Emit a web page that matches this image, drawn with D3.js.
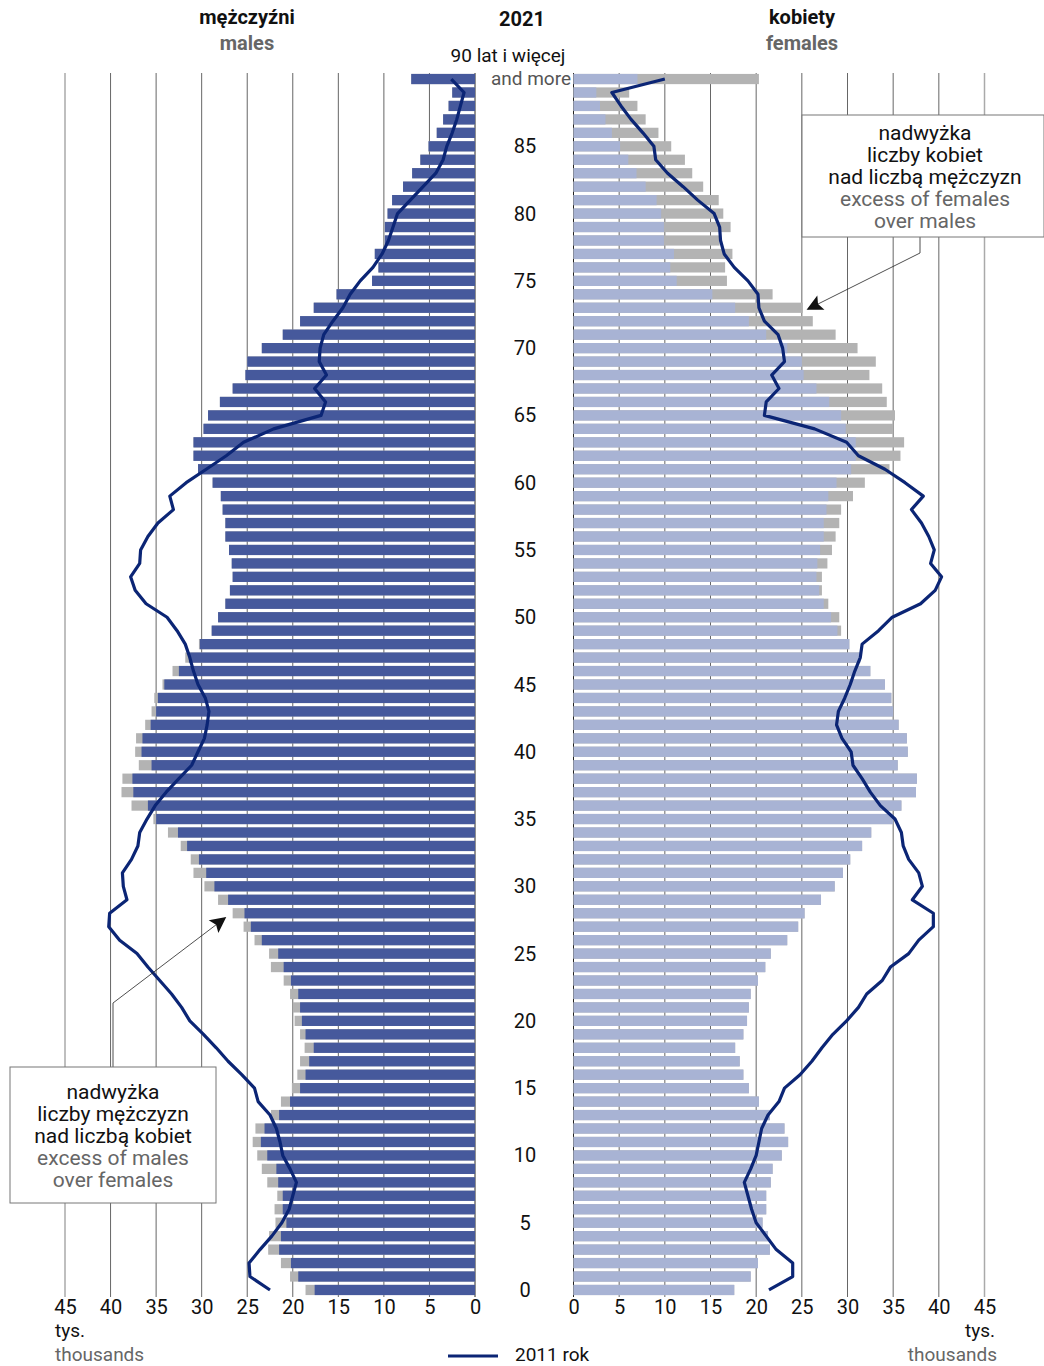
<!DOCTYPE html>
<html>
<head>
<meta charset="utf-8">
<script src="https://cdn.jsdelivr.net/npm/d3@7"></script>
<style>
  body { margin: 0; background: #fff; }
  svg text { font-family: "Liberation Sans Narrow", "Roboto", sans-serif; }
</style>
</head>
<body>
<div id="chart"></div>
<script>
// ages 0..90 (90 = "90 and more"), values in thousands
var ages = d3.range(0, 91)

var males2021 = [18.6, 20.3, 21.3, 22.7, 22.6, 21.9, 22.0, 21.7, 22.8, 23.4,
  23.9, 24.4, 24.1, 22.4, 21.3, 20.1, 19.5, 19.2, 18.7, 19.2,
  19.8, 20.0, 20.3, 21.0, 22.4, 22.6, 24.2, 25.4, 26.6, 28.2,
  29.7, 30.9, 31.2, 32.3, 33.7, 35.3, 37.7, 38.8, 38.7, 36.9,
  37.3, 37.2, 36.2, 35.5, 35.2, 34.3, 33.2, 31.8, 30.3, 28.9,
  28.2, 27.4, 26.9, 26.6, 26.7, 27.0, 27.4, 27.4, 27.7, 27.9,
  28.8, 30.4, 30.9, 30.9, 29.8, 29.3, 28.0, 26.6, 25.2, 25.0,
  23.4, 21.1, 19.2, 17.7, 15.2, 11.3, 10.6, 11.0, 9.9, 9.9,
  9.6, 9.1, 7.9, 6.9, 6.0, 5.1, 4.2, 3.5, 2.9, 2.5,
  7.0]

var females2021 = [17.6, 19.4, 20.2, 21.5, 21.3, 20.7, 21.1, 21.1, 21.6, 21.8,
  22.8, 23.5, 23.1, 21.5, 20.3, 19.2, 18.6, 18.2, 17.7, 18.6,
  19.0, 19.2, 19.4, 20.2, 21.0, 21.6, 23.4, 24.6, 25.3, 27.1,
  28.6, 29.5, 30.3, 31.6, 32.6, 35.0, 35.9, 37.5, 37.6, 35.5,
  36.6, 36.5, 35.6, 35.0, 34.8, 34.1, 32.5, 31.4, 30.2, 29.3,
  29.1, 27.9, 27.2, 27.2, 27.8, 28.3, 28.7, 29.1, 29.3, 30.6,
  31.9, 34.6, 35.8, 36.2, 35.0, 35.2, 34.3, 33.8, 32.4, 33.1,
  31.1, 28.7, 26.2, 25.1, 21.8, 16.8, 16.6, 17.4, 16.0, 17.2,
  16.4, 15.9, 14.2, 13.0, 12.2, 10.7, 9.3, 7.9, 7.0, 6.1,
  20.3]

var males2011 = [22.5, 24.7, 24.8, 23.6, 22.3, 21.2, 20.4, 20.0, 19.6, 20.3,
  21.1, 21.4, 21.8, 22.5, 23.8, 24.2, 25.6, 27.1, 28.4, 29.8,
  31.3, 32.2, 33.3, 34.6, 35.9, 37.1, 39.0, 40.2, 40.1, 38.2,
  38.6, 38.7, 37.7, 37.0, 36.8, 36.0, 35.1, 33.9, 32.5, 31.1,
  30.4, 29.7, 29.4, 29.2, 29.6, 30.4, 30.9, 31.3, 31.8, 32.7,
  33.8, 36.1, 37.3, 37.8, 36.8, 36.7, 35.9, 34.8, 33.1, 33.5,
  31.7, 29.5, 27.3, 25.4, 22.1, 16.9, 16.4, 17.6, 16.3, 17.1,
  17.0, 16.6, 15.6, 14.5, 13.7, 12.6, 11.2, 10.2, 9.5, 9.0,
  8.5, 7.1, 5.7, 4.3, 3.5, 3.1, 2.5, 2.0, 1.6, 1.2,
  2.6]

var females2011 = [21.4, 24.0, 24.0, 22.2, 21.1, 20.0, 19.5, 19.1, 18.7, 19.4,
  20.0, 20.3, 20.6, 21.3, 22.5, 23.1, 24.8, 26.1, 27.2, 28.4,
  29.9, 31.2, 32.1, 33.8, 34.7, 36.7, 37.8, 39.4, 39.4, 37.1,
  38.2, 37.8, 36.7, 36.1, 35.9, 35.2, 33.6, 32.5, 31.6, 30.6,
  30.4, 29.4, 28.8, 29.0, 29.7, 30.3, 30.8, 31.4, 31.6, 33.4,
  34.9, 38.0, 39.6, 40.3, 39.1, 39.5, 38.9, 38.1, 37.0, 38.3,
  36.3, 34.1, 31.2, 29.9, 26.4, 20.9, 21.1, 22.5, 21.7, 23.1,
  22.9, 22.4, 20.9, 20.3, 20.2, 19.1, 17.6, 16.5, 16.1, 16.0,
  15.4, 13.6, 12.0, 10.3, 9.0, 8.8, 7.6, 6.3, 5.2, 4.2,
  10.0]

var tickValues = [0, 5, 10, 15, 20, 25, 30, 35, 40, 45]
var ageLabels = [0, 5, 10, 15, 20, 25, 30, 35, 40, 45, 50, 55, 60, 65, 70, 75, 80, 85]

var widthSvg = 1044
var heightSvg = 1366

var colorMale = "#46599c"
var colorFemale = "#a8b3d4"
var colorExcess = "#b3b3b3"
var colorLine = "#0b2575"

var svg = d3.select("#chart").append("svg")
  .attr("width", widthSvg)
  .attr("height", heightSvg)

var maleScale = d3.scaleLinear().domain([0, 45]).range([475, 65])
var femaleScale = d3.scaleLinear().domain([0, 45]).range([573.5, 984.5])

var yScale = d3.scaleBand()
  .domain(ages.slice().reverse())
  .range([72.3, 1296.7])
  .paddingInner(0.24)
  .paddingOuter(0.12)

function yMid(a) { return yScale(a) + yScale.bandwidth() / 2 }

drawGrid()
drawBars()
drawLines()
drawAxes()
drawTitles()
drawNotes()

function drawGrid() {
  var g = svg.append("g").attr("class", "grid")
  g.selectAll(".gm").data(tickValues).enter().append("line")
    .attr("x1", function(d) { return maleScale(d) })
    .attr("x2", function(d) { return maleScale(d) })
    .attr("y1", 73).attr("y2", 1297)
    .attr("stroke", function(d) { return d === 45 ? "#aaa" : d === 0 ? "#222" : "#666" })
    .attr("stroke-width", function(d) { return d === 45 ? 1.5 : 1 })
  g.selectAll(".gf").data(tickValues).enter().append("line")
    .attr("x1", function(d) { return femaleScale(d) })
    .attr("x2", function(d) { return femaleScale(d) })
    .attr("y1", 73).attr("y2", 1297)
    .attr("stroke", function(d) { return d === 45 ? "#aaa" : d === 0 ? "#222" : "#666" })
    .attr("stroke-width", function(d) { return d === 45 ? 1.5 : 1 })
}

function drawBars() {
  var g = svg.append("g").attr("class", "bars")
  // males: full bar in grey (excess), common part in blue
  g.selectAll(".mEx").data(ages).enter().append("rect")
    .attr("x", function(a) { return maleScale(males2021[a]) })
    .attr("width", function(a) { return maleScale(0) - maleScale(males2021[a]) })
    .attr("y", function(a) { return yScale(a) })
    .attr("height", yScale.bandwidth())
    .attr("fill", colorExcess)
  g.selectAll(".m").data(ages).enter().append("rect")
    .attr("x", function(a) { return maleScale(Math.min(males2021[a], females2021[a])) })
    .attr("width", function(a) { return maleScale(0) - maleScale(Math.min(males2021[a], females2021[a])) })
    .attr("y", function(a) { return yScale(a) })
    .attr("height", yScale.bandwidth())
    .attr("fill", colorMale)
  g.selectAll(".fEx").data(ages).enter().append("rect")
    .attr("x", femaleScale(0))
    .attr("width", function(a) { return femaleScale(females2021[a]) - femaleScale(0) })
    .attr("y", function(a) { return yScale(a) })
    .attr("height", yScale.bandwidth())
    .attr("fill", colorExcess)
  g.selectAll(".f").data(ages).enter().append("rect")
    .attr("x", femaleScale(0))
    .attr("width", function(a) { return femaleScale(Math.min(males2021[a], females2021[a])) - femaleScale(0) })
    .attr("y", function(a) { return yScale(a) })
    .attr("height", yScale.bandwidth())
    .attr("fill", colorFemale)
}

function drawLines() {
  var maleLine = d3.line()
    .x(function(a) { return maleScale(males2011[a]) })
    .y(function(a) { return yMid(a) })
  var femaleLine = d3.line()
    .x(function(a) { return femaleScale(females2011[a]) })
    .y(function(a) { return yMid(a) })
  svg.append("path").datum(ages)
    .attr("d", maleLine)
    .attr("fill", "none").attr("stroke", colorLine)
    .attr("stroke-width", 3.2).attr("stroke-linejoin", "round")
  svg.append("path").datum(ages)
    .attr("d", femaleLine)
    .attr("fill", "none").attr("stroke", colorLine)
    .attr("stroke-width", 3.2).attr("stroke-linejoin", "round")
}

function drawAxes() {
  var xAxisM = d3.axisBottom(maleScale).tickValues(tickValues).tickSize(0).tickPadding(0)
  var xAxisF = d3.axisBottom(femaleScale).tickValues(tickValues).tickSize(0).tickPadding(0)
  var gm = svg.append("g").attr("class", "axis").attr("transform", "translate(0,1300)").call(xAxisM)
  var gf = svg.append("g").attr("class", "axis").attr("transform", "translate(0,1300)").call(xAxisF)
  ;[gm, gf].forEach(function(g) {
    g.select(".domain").remove()
    g.selectAll("text")
      .attr("font-size", 20)
      .attr("fill", "#111")
      .style("font-family", "\"Liberation Sans Narrow\", Roboto, sans-serif")
  })

  svg.append("g").selectAll("text").data(ageLabels).enter().append("text")
    .attr("x", 525)
    .attr("y", function(a) { return yMid(a) + 7 })
    .attr("text-anchor", "middle")
    .attr("font-size", 20)
    .attr("fill", "#111")
    .text(function(a) { return a })

  svg.append("text").attr("x", 508).attr("y", 62).attr("text-anchor", "middle")
    .attr("font-size", 19).attr("fill", "#111").text("90 lat i więcej")
  svg.append("text").attr("x", 571).attr("y", 85).attr("text-anchor", "end")
    .attr("font-size", 19).attr("fill", "#555").text("and more")

  svg.append("text").attr("x", 55).attr("y", 1337).attr("font-size", 19).attr("fill", "#111").text("tys.")
  svg.append("text").attr("x", 55).attr("y", 1361).attr("font-size", 19).attr("fill", "#666").text("thousands")
  svg.append("text").attr("x", 995).attr("y", 1337).attr("text-anchor", "end").attr("font-size", 19).attr("fill", "#111").text("tys.")
  svg.append("text").attr("x", 997).attr("y", 1361).attr("text-anchor", "end").attr("font-size", 19).attr("fill", "#666").text("thousands")

  svg.append("line").attr("x1", 448).attr("x2", 498).attr("y1", 1356).attr("y2", 1356)
    .attr("stroke", colorLine).attr("stroke-width", 3.2)
  svg.append("text").attr("x", 515).attr("y", 1361).attr("font-size", 19).attr("fill", "#111").text("2011 rok")
}

function drawTitles() {
  var titles = [
    { x: 247, y: 24, t: "mężczyźni", c: "#111" },
    { x: 247, y: 50, t: "males", c: "#666" },
    { x: 522, y: 26, t: "2021", c: "#111" },
    { x: 802, y: 24, t: "kobiety", c: "#111" },
    { x: 802, y: 50, t: "females", c: "#666" }
  ]
  svg.append("g").selectAll("text").data(titles).enter().append("text")
    .attr("x", function(d) { return d.x })
    .attr("y", function(d) { return d.y })
    .attr("text-anchor", "middle")
    .attr("font-size", 20)
    .attr("font-weight", "bold")
    .attr("fill", function(d) { return d.c })
    .text(function(d) { return d.t })
}

function drawNotes() {
  svg.append("defs").append("marker")
    .attr("id", "arrow")
    .attr("viewBox", "0 0 10 10")
    .attr("refX", 9).attr("refY", 5)
    .attr("markerWidth", 20).attr("markerHeight", 16)
    .attr("markerUnits", "userSpaceOnUse")
    .attr("orient", "auto")
    .append("path").attr("d", "M0,0 L10,5 L0,10 L2,5 Z").attr("fill", "#111")

  var notes = [
    { x: 802, y: 115, w: 242, h: 122, cx: 925,
      lines: ["nadwyżka", "liczby kobiet", "nad liczbą mężczyzn", "excess of females", "over males"],
      path: [[920, 237], [920, 253], [808, 309]] },
    { x: 10, y: 1067, w: 206, h: 136, cx: 113,
      lines: ["nadwyżka", "liczby mężczyzn", "nad liczbą kobiet", "excess of males", "over females"],
      path: [[113, 1067], [113, 1003], [225, 918]] }
  ]

  notes.forEach(function(n) {
    svg.append("path")
      .attr("d", d3.line()(n.path))
      .attr("fill", "none").attr("stroke", "#222").attr("stroke-width", 0.8)
      .attr("marker-end", "url(#arrow)")
    svg.append("rect")
      .attr("x", n.x).attr("y", n.y).attr("width", n.w).attr("height", n.h)
      .attr("fill", "#fff").attr("stroke", "#777").attr("stroke-width", 1)
    var top = n.y + 25 + (n.h - 122) / 2
    n.lines.forEach(function(l, i) {
      svg.append("text")
        .attr("x", n.cx).attr("y", top + i * 22)
        .attr("text-anchor", "middle")
        .attr("font-size", 21)
        .attr("fill", i < 3 ? "#111" : "#666")
        .text(l)
    })
  })
}
</script>
</body>
</html>
